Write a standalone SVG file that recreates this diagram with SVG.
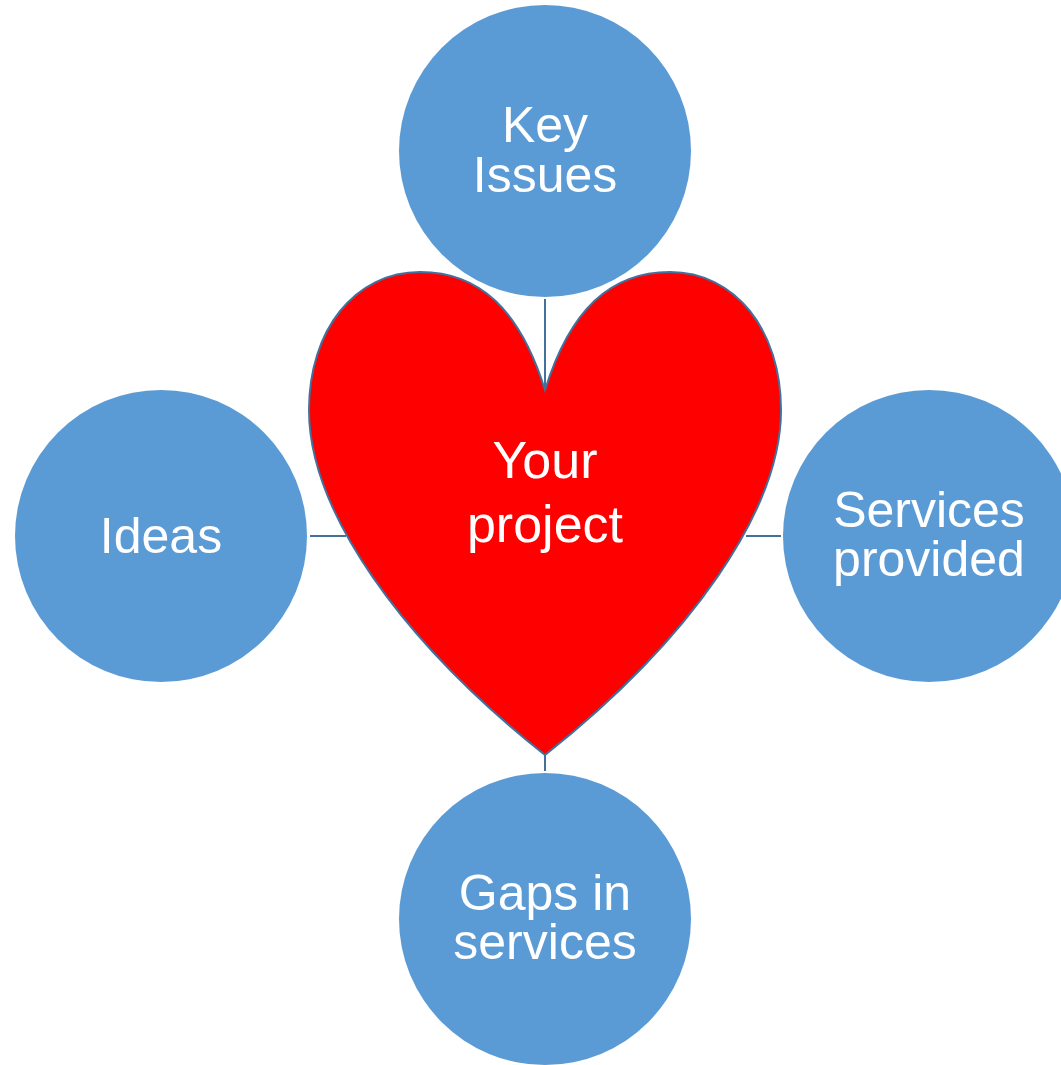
<svg xmlns="http://www.w3.org/2000/svg" width="1061" height="1065" viewBox="0 0 1061 1065">
<style>
.c{fill:#5B9BD5;}
.t{fill:#fff;font-family:"Liberation Sans",Arial,sans-serif;font-size:50px;text-anchor:middle;}
.h{font-size:52px;}
.ln{stroke:#41719C;stroke-width:2;fill:none;}
</style>
<rect width="1061" height="1065" fill="#fff"/>
<g id="connectors">
<line class="ln" x1="545" y1="299" x2="545" y2="392"/>
<line class="ln" x1="310" y1="536" x2="346" y2="536"/>
<line class="ln" x1="746" y1="536" x2="781" y2="536"/>
<line class="ln" x1="545" y1="755" x2="545" y2="771"/>
</g>
<g id="key-issues">
<circle class="c" cx="545" cy="151" r="146"/>
<text class="t" x="545" y="142">Key</text>
<text class="t" x="545" y="192">Issues</text>
</g>
<g id="ideas">
<circle class="c" cx="161" cy="536" r="146"/>
<text class="t" x="161" y="553">Ideas</text>
</g>
<g id="services-provided">
<circle class="c" cx="929" cy="536" r="146"/>
<text class="t" x="929" y="527">Services</text>
<text class="t" x="929" y="576">provided</text>
</g>
<g id="gaps-in-services">
<circle class="c" cx="545" cy="919" r="146"/>
<text class="t" x="545" y="910">Gaps in</text>
<text class="t" x="545" y="959">services</text>
</g>
<g id="your-project">
<path d="M545,390 C520,310 480,272 420,272 C355,272 309,330 309,410 C309,510 400,640 545,755 C690,640 781,510 781,410 C781,330 735,272 670,272 C610,272 570,310 545,390 Z" fill="#FF0000" stroke="#41719C" stroke-width="2"/>
<text class="t h" x="545" y="478">Your</text>
<text class="t h" x="545" y="542">project</text>
</g>
</svg>
